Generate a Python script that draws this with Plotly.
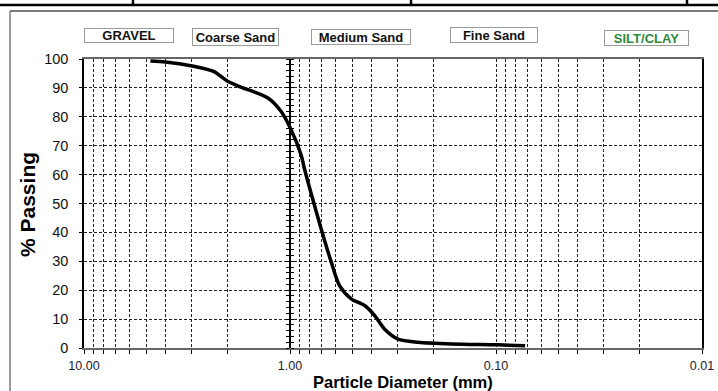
import plotly.graph_objects as go

# ---- data ----
diameter_mm = [4.76, 4.03, 2.98, 2.35, 2.01, 1.73, 1.28, 1.106, 0.989, 0.883, 0.852,
               0.706, 0.631, 0.575, 0.504, 0.434, 0.388, 0.348, 0.299, 0.239, 0.164,
               0.098, 0.0722]
percent_passing = [99.3, 99.0, 97.6, 95.7, 92.3, 90.3, 86.5, 81.9, 75.6, 66.8, 62.2,
                   41.3, 29.8, 21.6, 17.0, 14.7, 11.2, 6.6, 3.1, 2.0, 1.4, 1.1, 0.8]

x_tick_vals = [10, 9, 8, 7, 6, 5, 4, 3, 2,
               1, 0.9, 0.8, 0.7, 0.6, 0.5, 0.4, 0.3, 0.2,
               0.1, 0.09, 0.08, 0.07, 0.06, 0.05, 0.04, 0.03, 0.02, 0.01]
x_tick_text = ["10.00" if v == 10 else "1.00" if v == 1 else "0.10" if v == 0.1
               else "0.01" if v == 0.01 else "" for v in x_tick_vals]
y_tick_vals = [0, 10, 20, 30, 40, 50, 60, 70, 80, 90, 100]

zone_labels = ["GRAVEL", "Coarse Sand", "Medium Sand", "Fine Sand", "SILT/CLAY"]
zone_colors = ["#111111", "#111111", "#111111", "#111111", "#2E8B3A"]

# ---- layout geometry (pixels) ----
W, H = 718, 391
L, R, T, B = 84, 16, 59, 43
PW, PH = W - L - R, H - T - B


def px(xp):
    return (xp - L) / PW


def py(yp):
    return (H - B - yp) / PH


# box centers / sizes in pixels
zone_boxes = [(129, 35.5, 90, 15), (235.5, 36.5, 87, 18), (361, 37, 100, 16),
              (494, 35, 88, 16), (646.5, 38, 85, 16)]

FONT = "Liberation Sans, Arial, sans-serif"

fig = go.Figure()
fig.add_trace(go.Scatter(x=diameter_mm, y=percent_passing, mode="lines",
                         line=dict(color="black", width=3.5, shape="spline", smoothing=0.8),
                         showlegend=False, hoverinfo="skip"))
# empty traces to carry the crossing axis at 1.00 mm
fig.add_trace(go.Scatter(x=[None], y=[None], yaxis="y2", showlegend=False, hoverinfo="skip"))
fig.add_trace(go.Scatter(x=[None], y=[None], yaxis="y3", showlegend=False, hoverinfo="skip"))

fig.update_layout(
    width=W, height=H,
    margin=dict(l=L, r=R, t=T, b=B, pad=0, autoexpand=False),
    paper_bgcolor="white", plot_bgcolor="white",
    font=dict(family=FONT, color="black"),
    xaxis=dict(type="log", range=[1, -2], tickvals=x_tick_vals, ticktext=x_tick_text,
               ticks="outside", ticklen=4, tickcolor="black", tickwidth=1,
               ticklabelstandoff=1, automargin=False,
               showgrid=True, gridcolor="#222222", gridwidth=1, griddash="3px,2px",
               showline=True, linecolor="#666666", linewidth=2, mirror=True,
               tickfont=dict(size=12.5, color="#1a1a2e"), zeroline=False, fixedrange=True),
    yaxis=dict(range=[0, 100], tickvals=y_tick_vals, ticks="outside", ticklen=3,
               ticklabelstandoff=8, automargin=False,
               tickcolor="black", showgrid=True, gridcolor="#222222", gridwidth=1,
               griddash="3px,2px", showline=True, linecolor="black", linewidth=1.5,
               mirror=True, tickfont=dict(size=14.5, color="#111111"), zeroline=False),
    yaxis2=dict(range=[0, 100], overlaying="y", anchor="free", position=1/3,
                dtick=2, ticks="outside", ticklen=3, tickcolor="black", automargin=False,
                showticklabels=False, showgrid=False, showline=True,
                linecolor="black", linewidth=1.5, zeroline=False),
    yaxis3=dict(range=[0, 100], overlaying="y", anchor="free", position=1/3, side="right",
                dtick=2, ticks="outside", ticklen=3, tickcolor="black", automargin=False,
                showticklabels=False, showgrid=False, showline=True,
                linecolor="black", linewidth=1.5, zeroline=False),
)

annotations = []
for text, color, (cx, cy, bw, bh) in zip(zone_labels, zone_colors, zone_boxes):
    annotations.append(dict(
        text=f"<b>{text}</b>", x=px(cx), y=py(cy), xref="paper", yref="paper",
        showarrow=False, xanchor="center", yanchor="middle",
        width=bw - 4, height=bh - 4, borderpad=1, bordercolor="#9a9a9a",
        borderwidth=1, bgcolor="white", font=dict(size=13, color=color, family=FONT)))
annotations.append(dict(text="<b>Particle Diameter (mm)</b>", x=px(403), y=py(381.5),
                        xref="paper", yref="paper", showarrow=False,
                        xanchor="center", yanchor="middle",
                        font=dict(size=16.5, family=FONT, color="black")))
annotations.append(dict(text="<b>% Passing</b>", x=px(27), y=py(205),
                        xref="paper", yref="paper", showarrow=False, textangle=-90,
                        xanchor="center", yanchor="middle",
                        font=dict(size=21, family=FONT, color="black")))
fig.update_layout(annotations=annotations)

shapes = [
    # outer frame
    dict(type="line", xref="paper", yref="paper", x0=px(10), x1=px(10), y0=py(11), y1=py(395),
         line=dict(color="#7a7a7a", width=1.5)),
    dict(type="line", xref="paper", yref="paper", x0=px(10), x1=px(720), y0=py(11), y1=py(11),
         line=dict(color="#7a7a7a", width=2)),
    # top table border
    dict(type="line", xref="paper", yref="paper", x0=px(0), x1=px(720), y0=py(5), y1=py(5),
         line=dict(color="black", width=2.5)),
]
for xv in [133, 411, 687]:
    shapes.append(dict(type="line", xref="paper", yref="paper", x0=px(xv), x1=px(xv),
                       y0=py(-2), y1=py(5), line=dict(color="black", width=2.5)))
fig.update_layout(shapes=shapes)

fig.write_html("out.html")
